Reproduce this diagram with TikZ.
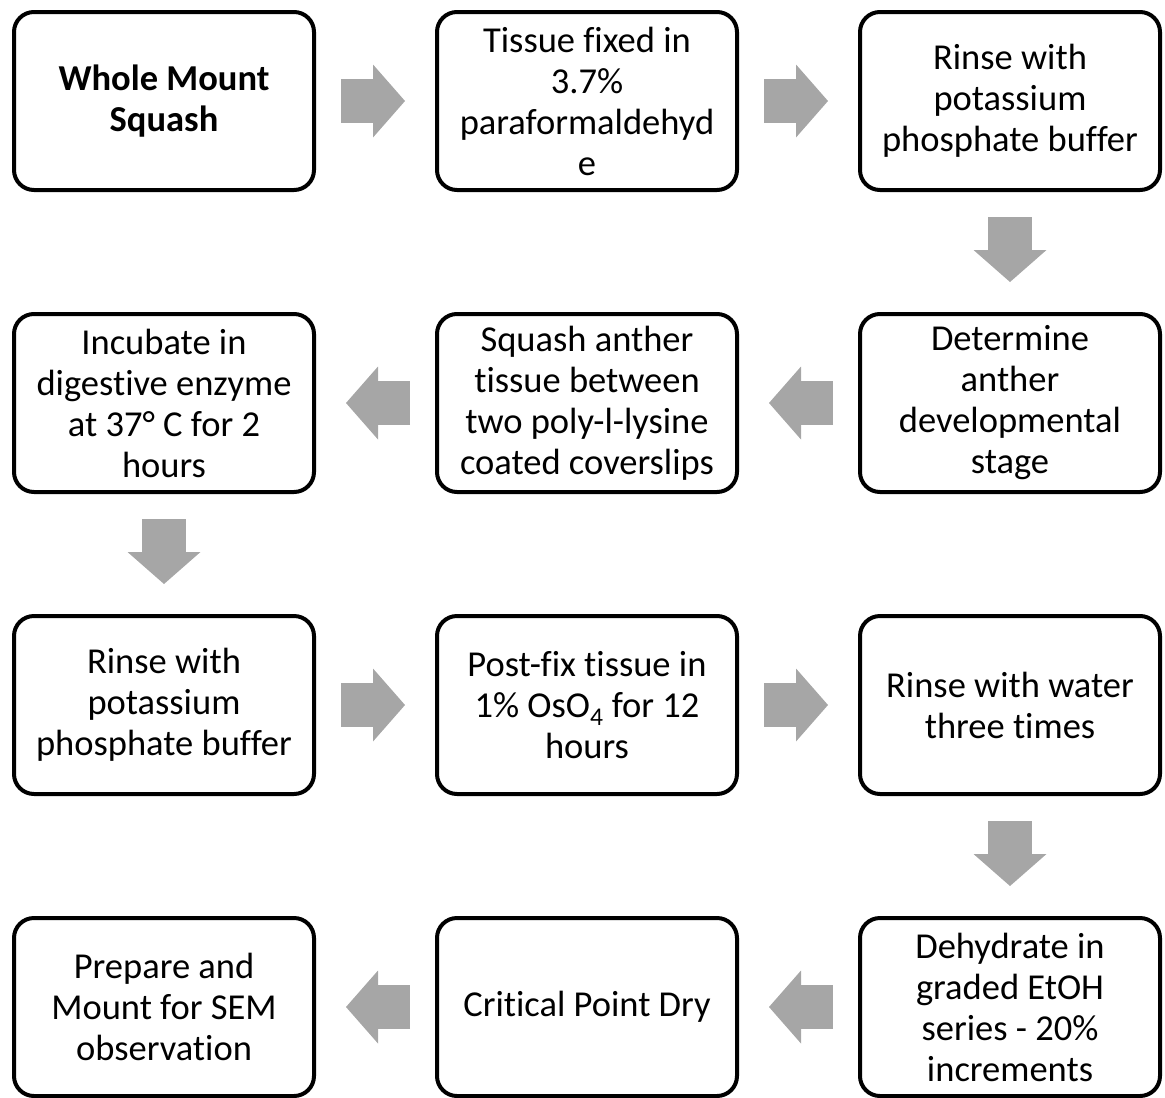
\documentclass[tikz,border=0pt]{standalone}
\usepackage{fontspec}
\setmainfont{Carlito}[Ligatures=NoCommon]
\usetikzlibrary{positioning,arrows.meta}
\definecolor{arrowgray}{HTML}{A6A6A6}

\begin{document}
\begin{tikzpicture}[x=1pt,y=1pt,
node distance=120pt and 119pt,
boxnode/.style={rectangle, rounded corners=20pt, draw=black, line width=4pt, minimum width=300pt, minimum height=178pt, inner sep=0pt, align=center, font=\fontsize{36.5}{41}\selectfont},
blockarrow/.style={draw=arrowgray, line width=44pt, -{Triangle[length=32pt,width=73pt,line width=0pt]}, shorten <=25pt, shorten >=30pt},
]
\useasboundingbox (0,0) rectangle (1165,-1098);

%Nodes
\node[boxnode]      (W)       at (164,-101) {\textbf{Whole Mount}\\\textbf{Squash}};
\node[boxnode]      (F)       [right=of W] {Tissue fixed in\\3.7\%\\paraformaldehyd\\e};
\node[boxnode]      (R)       [right=of F] {Rinse with\\potassium\\phosphate buffer};

\node[boxnode]      (D)       [below=of R] {Determine\\anther\\developmental\\stage};
\node[boxnode]      (Q)       [left=of D]  {Squash anther\\tissue between\\two poly-l-lysine\\coated coverslips};
\node[boxnode]      (I)       [left=of Q]  {Incubate in\\digestive enzyme\\at 37° C for 2\\hours};

\node[boxnode]      (R2)      [below=of I] {Rinse with\\potassium\\phosphate buffer};
\node[boxnode]      (P)       [right=of R2] {Post-fix tissue in\\1\% OsO\textsubscript{4} for 12\\hours};
\node[boxnode]      (T)       [right=of P] {Rinse with water\\three times};

\node[boxnode]      (E)       [below=of T] {Dehydrate in\\graded EtOH\\series - 20\%\\increments};
\node[boxnode]      (C)       [left=of E]  {Critical Point Dry};
\node[boxnode]      (M)       [left=of C]  {Prepare and\\Mount for SEM\\observation};

%Lines
\draw[blockarrow] (W.east) -- (F.west);
\draw[blockarrow] (F.east) -- (R.west);
\draw[blockarrow] (R.south) -- (D.north);

\draw[blockarrow] (D.west) -- (Q.east);
\draw[blockarrow] (Q.west) -- (I.east);
\draw[blockarrow] (I.south) -- (R2.north);

\draw[blockarrow] (R2.east) -- (P.west);
\draw[blockarrow] (P.east) -- (T.west);
\draw[blockarrow] (T.south) -- (E.north);

\draw[blockarrow] (E.west) -- (C.east);
\draw[blockarrow] (C.west) -- (M.east);

\end{tikzpicture}
\end{document}
